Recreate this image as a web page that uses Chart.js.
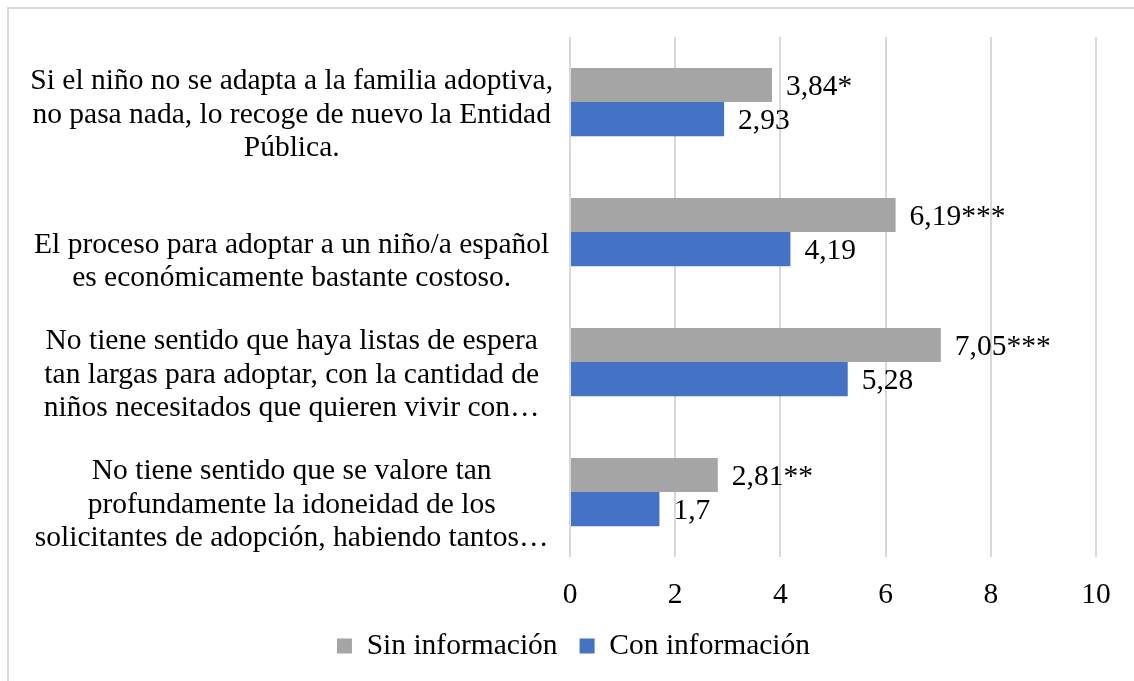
<!DOCTYPE html>
<html lang="es">
<head>
<meta charset="utf-8">
<title>Adopción nacional</title>
<script src="https://cdn.jsdelivr.net/npm/chart.js@4.4.0/dist/chart.umd.min.js"></script>
<style>
    html, body { margin: 0; padding: 0; background: #fff; }
    body { width: 1134px; height: 681px; overflow: hidden; position: relative; }
    /* marco gris del gráfico (solo se ven los bordes superior e izquierdo) */
    .marco {
        position: absolute; left: 7px; top: 7px;
        width: 1200px; height: 720px;
        border-top: 2px solid #d9d9d9; border-left: 2px solid #d9d9d9;
    }
    .lienzo { position: absolute; left: 0; top: 0; width: 1134px; height: 681px; }
</style>
</head>
<body>
<div class="marco"></div>
<div class="lienzo"><canvas id="grafico"></canvas></div>
<script>
// Datos del gráfico
const categorias = [
    ['Si el niño no se adapta a la familia adoptiva,', 'no pasa nada, lo recoge de nuevo la Entidad', 'Pública.'],
    ['', 'El proceso para adoptar a un niño/a español', 'es económicamente bastante costoso.'],
    ['No tiene sentido que haya listas de espera', 'tan largas para adoptar, con la cantidad de', 'niños necesitados que quieren vivir con…'],
    ['No tiene sentido que se valore tan', 'profundamente la idoneidad de los', 'solicitantes de adopción, habiendo tantos…']
];
const sinInformacion = [3.84, 6.19, 7.05, 2.81];
const conInformacion = [2.93, 4.19, 5.28, 1.7];
const significacion = ['*', '***', '***', '**'];
const ticksX = [0, 2, 4, 6, 8, 10];

const fuente = '"Liberation Serif", "Times New Roman", serif';
const tamano = 29.5;

// Formato con coma decimal
function formatoValor(v) {
    return String(v).replace('.', ',');
}

// Etiquetas de valor al final de cada barra
const etiquetasValor = {
    id: 'etiquetasValor',
    afterDatasetsDraw(chart) {
        const ctx = chart.ctx;
        ctx.save();
        ctx.font = tamano + 'px ' + fuente;
        ctx.fillStyle = '#000';
        ctx.textAlign = 'left';
        ctx.textBaseline = 'middle';
        chart.data.datasets.forEach((ds, di) => {
            const meta = chart.getDatasetMeta(di);
            meta.data.forEach((barra, i) => {
                let texto = formatoValor(ds.data[i]);
                if (di === 0) texto += significacion[i];
                ctx.fillText(texto, barra.x + 14, barra.y + 2);
            });
        });
        ctx.restore();
    }
};

// Centrar la leyenda un poco más a la derecha, como en el original
const moverLeyenda = {
    id: 'moverLeyenda',
    afterLayout(chart) {
        if (chart.legend) chart.legend.left += 34;
    }
};

document.addEventListener('DOMContentLoaded', function() {
    const ctx = document.getElementById('grafico');
    new Chart(ctx, {
        type: 'bar',
        data: {
            labels: categorias,
            datasets: [
                { label: 'Sin información', data: sinInformacion, backgroundColor: '#a5a5a5' },
                { label: 'Con información', data: conInformacion, backgroundColor: '#4472c4' }
            ]
        },
        options: {
            indexAxis: 'y',
            responsive: true,
            maintainAspectRatio: false,
            animation: false,
            layout: { padding: { left: 15, right: 36, top: 37, bottom: 10.25 } },
            datasets: { bar: { categoryPercentage: 0.525, barPercentage: 1 } },
            scales: {
                x: {
                    min: 0,
                    max: 10,
                    afterBuildTicks: scale => { scale.ticks = ticksX.map(v => ({ value: v })); },
                    afterFit: scale => { scale.height = 52.25; },
                    grid: { color: '#d9d9d9', lineWidth: 2, drawTicks: false },
                    border: { display: false },
                    ticks: { padding: 23.25, color: '#000', font: { family: fuente, size: tamano, lineHeight: 1 } }
                },
                y: {
                    // ancho fijo y sin margen extra arriba/abajo por las etiquetas de varias líneas
                    afterFit: scale => { scale.width = 555; scale.paddingTop = 0; scale.paddingBottom = 0; },
                    grid: { display: false },
                    border: { display: false },
                    ticks: {
                        crossAlign: 'center',
                        padding: 9,
                        labelOffset: 13,
                        color: '#000',
                        font: { family: fuente, size: tamano, lineHeight: 1.13 }
                    }
                }
            },
            plugins: {
                legend: {
                    position: 'bottom',
                    labels: {
                        boxWidth: 15,
                        boxHeight: 15,
                        padding: 22,
                        color: '#000',
                        font: { family: fuente, size: tamano }
                    }
                },
                tooltip: { enabled: false }
            }
        },
        plugins: [etiquetasValor, moverLeyenda]
    });
});
</script>
</body>
</html>
